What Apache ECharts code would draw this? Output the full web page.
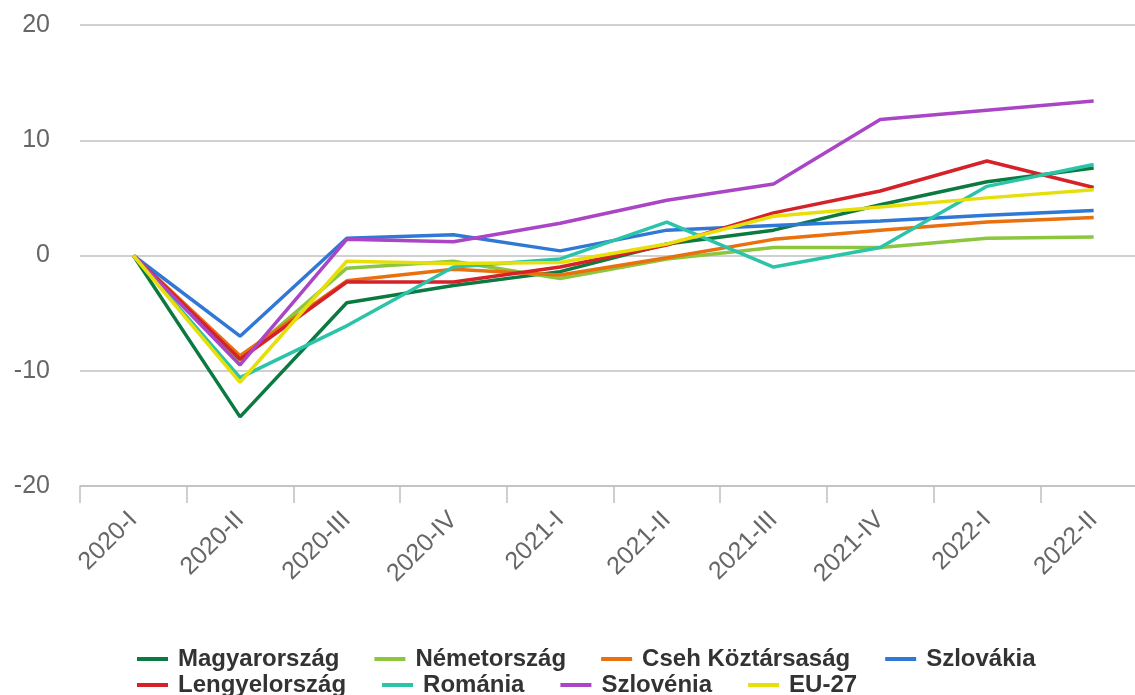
<!DOCTYPE html>
<html>
<head>
<meta charset="utf-8">
<script src="https://cdn.jsdelivr.net/npm/echarts@6/dist/echarts.min.js"></script>
<style>
  html, body { margin: 0; padding: 0; background: #fff; overflow: hidden; }
  /* a diagram a jobb szélen túlnyúlik, mint az eredetin */
  #chart { width: 1147px; height: 695px; }
</style>
</head>
<body>
<div id="chart"></div>
<script>
// negyedévek
var categories = ['2020-I', '2020-II', '2020-III', '2020-IV', '2021-I', '2021-II', '2021-III', '2021-IV', '2022-I', '2022-II'];

var magyarorszag = [0, -14.0, -4.1, -2.6, -1.4, 1.0, 2.2, 4.4, 6.4, 7.6];
var nemetorszag = [0, -9.1, -1.1, -0.5, -2.0, -0.3, 0.7, 0.7, 1.5, 1.6];
var cseh = [0, -8.7, -2.2, -1.2, -1.7, -0.2, 1.4, 2.2, 2.9, 3.3];
var szlovakia = [0, -7.0, 1.5, 1.8, 0.4, 2.2, 2.6, 3.0, 3.5, 3.9];
var lengyelorszag = [0, -9.0, -2.3, -2.3, -1.0, 0.9, 3.7, 5.6, 8.2, 5.9];
var romania = [0, -10.6, -6.1, -1.0, -0.3, 2.9, -1.0, 0.7, 6.0, 7.9];
var szlovenia = [0, -9.5, 1.4, 1.2, 2.8, 4.8, 6.2, 11.8, 12.6, 13.4];
var eu27 = [0, -11.0, -0.5, -0.7, -0.6, 1.0, 3.4, 4.2, 5.0, 5.7];

var yTicks = { min: -20, max: 20, step: 10 };

var names = ['Magyarország', 'Németország', 'Cseh Köztársaság', 'Szlovákia', 'Lengyelország', 'Románia', 'Szlovénia', 'EU-27'];
var values = [magyarorszag, nemetorszag, cseh, szlovakia, lengyelorszag, romania, szlovenia, eu27];
var colors = ['#0b7a40', '#8cc63f', '#ea6f0d', '#2f78d6', '#d52128', '#2cc4a8', '#aa45c6', '#e6df0a'];

var gridColor = '#c0c0c0';
var font = 'Liberation Sans, Arial, sans-serif';

var series = [];
for (var i = 0; i < names.length; i++) {
	series.push({
		name: names[i],
		type: 'line',
		data: values[i],
		symbol: 'none',
		color: colors[i],
		lineStyle: { width: 3.5, color: colors[i] }
	});
}

// két külön jelmagyarázat-sor, hogy a sorköz kicsi maradjon
function legendRow(data, top, gap) {
	return {
		data: data,
		left: 132,
		top: top,
		orient: 'horizontal',
		icon: 'rect',
		itemWidth: 31,
		itemHeight: 4,
		itemGap: gap,
		textStyle: {
			fontSize: 24,
			fontWeight: 'bold',
			color: '#333',
			fontFamily: font,
			padding: [0, 0, 0, 5]
		}
	};
}

var myChart = echarts.init(document.getElementById('chart'));
var option = {
	animation: false,
	color: colors,
	grid: {
		left: 80,
		right: 0,
		top: 25,
		bottom: 209
	},
	legend: [
		legendRow(names.slice(0, 4), 642, 35),
		legendRow(names.slice(4), 668, 36)
	],
	xAxis: {
		type: 'category',
		data: categories,
		boundaryGap: true,
		axisLine: { onZero: false, lineStyle: { color: gridColor, width: 1.5 } },
		axisTick: { show: true, length: 17, lineStyle: { color: gridColor, width: 1.5 } },
		axisLabel: {
			interval: 0,
			rotate: 45,
			margin: 30,
			fontSize: 25,
			color: '#666',
			fontFamily: font
		},
		splitLine: { show: false }
	},
	yAxis: {
		type: 'value',
		min: yTicks.min,
		max: yTicks.max,
		interval: yTicks.step,
		axisLine: { show: false },
		axisTick: { show: false },
		axisLabel: {
			margin: 30,
			fontSize: 25,
			color: '#666',
			fontFamily: font
		},
		splitLine: { lineStyle: { color: gridColor, width: 1.5 } }
	},
	series: series
};
myChart.setOption(option);
</script>
</body>
</html>
